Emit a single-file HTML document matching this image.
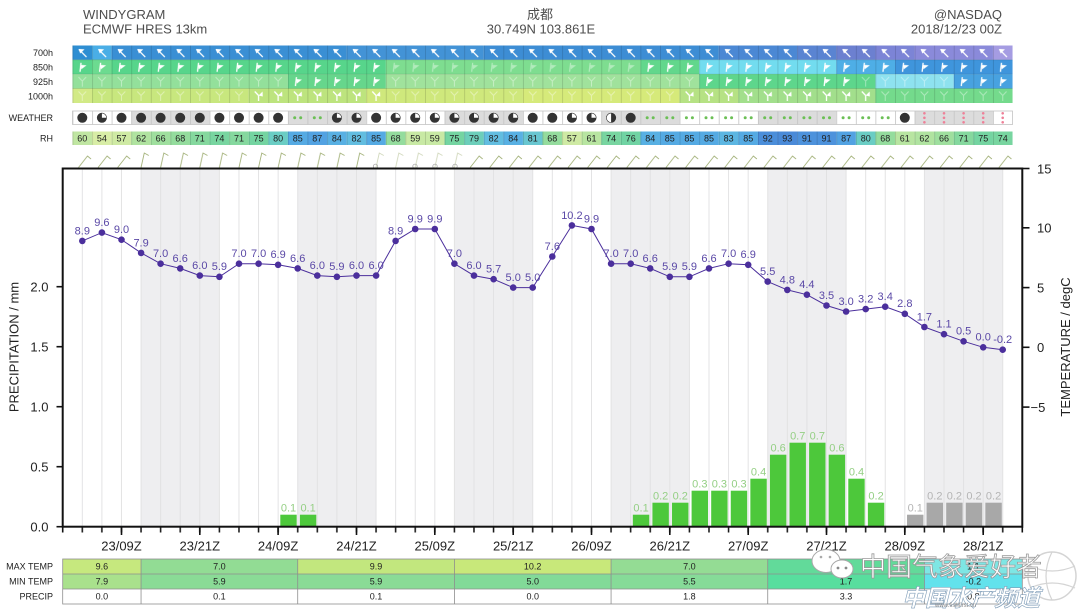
<!DOCTYPE html>
<html><head><meta charset="utf-8"><style>html,body{margin:0;padding:0;background:#fff;}svg{display:block;}</style></head>
<body>
<svg width="1080" height="611" viewBox="0 0 1080 611" xmlns="http://www.w3.org/2000/svg" font-family="'Liberation Sans', Arial, sans-serif">
<defs>
<pattern id="pvl" x="72.51" y="0" width="19.584" height="10" patternUnits="userSpaceOnUse"><rect x="0" y="0" width="0.8" height="10" fill="rgba(0,0,0,0.16)"/></pattern>
<pattern id="pvw" x="72.51" y="0" width="19.584" height="10" patternUnits="userSpaceOnUse"><rect x="0" y="0" width="0.8" height="10" fill="#c4c4c4"/></pattern>
<pattern id="pgl" x="72.51" y="0" width="19.584" height="10" patternUnits="userSpaceOnUse"><rect x="9.35" y="0" width="0.9" height="10" fill="#e0e0e2"/></pattern>
<pattern id="ptk" x="72.51" y="527" width="19.584" height="6" patternUnits="userSpaceOnUse"><rect x="9.04" y="0" width="1.5" height="6" fill="#111"/></pattern>
<pattern id="pA" x="72.51" y="45.5" width="19.584" height="14.3" patternUnits="userSpaceOnUse"><path d="M14,11.5 L6.5,4" stroke="#fff" stroke-width="1.3"/><path d="M6,3.5 L12,3.8 L7.7,8 Z" fill="#fff"/></pattern>
<pattern id="pB" x="72.51" y="59.8" width="19.584" height="14.3" patternUnits="userSpaceOnUse"><path d="M7.5,12 L8.5,3" stroke="#fff" stroke-width="1.3"/><path d="M8.3,5 L14,5.5 L8.8,9.5 Z" fill="#fff"/></pattern>
<pattern id="pBf" x="72.51" y="59.8" width="19.584" height="14.3" patternUnits="userSpaceOnUse"><g opacity="0.4"><path d="M7.5,12 L8.5,3" stroke="#fff" stroke-width="1.2"/><path d="M8.3,5 L14,5.5 L8.8,9.5 Z" fill="#fff"/></g></pattern>
<pattern id="pC" x="72.51" y="74.1" width="19.584" height="14.4" patternUnits="userSpaceOnUse"><path d="M7.5,12 L8.5,3" stroke="#fff" stroke-width="1.3"/><path d="M8.3,5 L14,5.5 L8.8,9.5 Z" fill="#fff"/></pattern>
<pattern id="pCf" x="72.51" y="74.1" width="19.584" height="14.4" patternUnits="userSpaceOnUse"><path d="M9.8,12.5 L9.8,7 M9.8,7 L6,3 M9.8,7 L13.6,3" stroke="#fff" stroke-width="1" fill="none" opacity="0.4"/></pattern>
<pattern id="pD" x="72.51" y="88.5" width="19.584" height="14.5" patternUnits="userSpaceOnUse"><path d="M9.8,12.5 L9.8,7 M9.8,7 L6,3" stroke="#fff" stroke-width="1.3" fill="none"/><path d="M9.8,7 L13.8,3 L14,8 Z" fill="#fff"/></pattern>
<pattern id="pDf" x="72.51" y="88.5" width="19.584" height="14.5" patternUnits="userSpaceOnUse"><path d="M9.8,12.5 L9.8,7 M9.8,7 L6,3 M9.8,7 L13.6,3" stroke="#fff" stroke-width="1" fill="none" opacity="0.4"/></pattern>
<pattern id="pW" x="72.51" y="147" width="19.584" height="21" patternUnits="userSpaceOnUse"><path d="M9.8,20.5 L13,6 L17.5,8.5" stroke="#a4b27a" stroke-width="0.9" fill="none"/></pattern>
<pattern id="pW2" x="72.51" y="147" width="19.584" height="21" patternUnits="userSpaceOnUse"><path d="M6,20.5 L15,9 L18.5,12" stroke="#a4b27a" stroke-width="0.9" fill="none"/></pattern>
<g id="wd"><circle r="5" fill="#333"/></g>
<g id="wq"><circle r="5" fill="#333"/><path d="M0,0 L0,-4.4 A4.4,4.4 0 0 1 4.4,0 Z" fill="#fff"/></g>
<g id="wh"><circle r="5" fill="#333"/><path d="M0,-4.4 A4.4,4.4 0 0 0 0,4.4 Z" fill="#fff"/></g>
<g id="wr"><circle cx="-3" r="1.5" fill="#6bbf55"/><circle cx="3" r="1.5" fill="#6bbf55"/></g>
<g id="ws"><circle cy="-4.5" r="1.3" fill="#ee8098"/><circle r="1.3" fill="#ee8098"/><circle cy="4.5" r="1.3" fill="#ee8098"/></g>
<marker id="dot" markerWidth="8" markerHeight="8" refX="4" refY="4" markerUnits="userSpaceOnUse"><circle cx="4" cy="4" r="3.3" fill="#4b2f9c"/></marker>
</defs>

<rect width="1080" height="611" fill="#fff"/>

<g font-size="13" fill="#4d4d4d">
<text x="83" y="19">WINDYGRAM</text>
<text x="83" y="33.5">ECMWF HRES 13km</text>
<text x="540" y="19" text-anchor="middle" font-family="'Liberation Sans','Noto Sans CJK SC',sans-serif">成都</text>
<text x="541" y="33.5" text-anchor="middle">30.749N 103.861E</text>
<text x="1002" y="19" text-anchor="end">@NASDAQ</text>
<text x="1002" y="33.5" text-anchor="end">2018/12/23 00Z</text>
</g>

<g font-size="9" fill="#222" text-anchor="end">
<text x="53" y="56">700h</text>
<text x="53" y="70.5">850h</text>
<text x="53" y="85">925h</text>
<text x="53" y="99.5">1000h</text>
<text x="53" y="121">WEATHER</text>
<text x="53" y="141.5">RH</text>
<text x="53" y="569.7">MAX TEMP</text>
<text x="53" y="584.7">MIN TEMP</text>
<text x="53" y="599.7">PRECIP</text>
</g>

<g transform="translate(72.51 0) scale(19.584 1)">
<rect x="0" y="45.5" width="1" height="14.3" fill="#2e8ed2"/>
<rect x="1" y="45.5" width="1" height="14.3" fill="#4aaee6"/>
<rect x="2" y="45.5" width="12" height="14.3" fill="#3a8fd4"/>
<rect x="14" y="45.5" width="7" height="14.3" fill="#4393d6"/>
<rect x="21" y="45.5" width="12" height="14.3" fill="#3d8dd4"/>
<rect x="33" y="45.5" width="4" height="14.3" fill="#4b88d4"/>
<rect x="37" y="45.5" width="2" height="14.3" fill="#5a84d2"/>
<rect x="39" y="45.5" width="2" height="14.3" fill="#6c80d0"/>
<rect x="41" y="45.5" width="2" height="14.3" fill="#7c84d6"/>
<rect x="43" y="45.5" width="4" height="14.3" fill="#8a8ada"/>
<rect x="47" y="45.5" width="1" height="14.3" fill="#a59ce2"/>

<rect x="0" y="59.8" width="16" height="14.3" fill="#57d58b"/>
<rect x="1" y="59.8" width="1" height="14.3" fill="#6cdb90"/>
<rect x="16" y="59.8" width="13" height="14.3" fill="#7edd90"/>
<rect x="29" y="59.8" width="3" height="14.3" fill="#62d78c"/>
<rect x="32" y="59.8" width="7" height="14.3" fill="#72dcef"/>
<rect x="39" y="59.8" width="3" height="14.3" fill="#4eaee6"/>
<rect x="42" y="59.8" width="6" height="14.3" fill="#3f95dc"/>

<rect x="0" y="74.1" width="11" height="14.4" fill="#93e09b"/>
<rect x="11" y="74.1" width="5" height="14.4" fill="#66d68c"/>
<rect x="16" y="74.1" width="16" height="14.4" fill="#a0e29c"/>
<rect x="32" y="74.1" width="9" height="14.4" fill="#5ed68c"/>
<rect x="41" y="74.1" width="4" height="14.4" fill="#8ee2ef"/>
<rect x="45" y="74.1" width="3" height="14.4" fill="#48a2e0"/>

<rect x="0" y="88.5" width="9" height="14.5" fill="#c8e77e"/>
<rect x="0" y="88.5" width="1" height="14.5" fill="#d2ea86"/>
<rect x="9" y="88.5" width="6" height="14.5" fill="#bde47e"/>
<rect x="15" y="88.5" width="8" height="14.5" fill="#cfe87c"/>
<rect x="23" y="88.5" width="8" height="14.5" fill="#d6ea7a"/>
<rect x="31" y="88.5" width="3" height="14.5" fill="#b6e284"/>
<rect x="34" y="88.5" width="7" height="14.5" fill="#a2df8c"/>
<rect x="41" y="88.5" width="7" height="14.5" fill="#74da8c"/>

<rect x="0" y="111" width="48" height="13.5" fill="#fff"/>
<rect x="3" y="111" width="4" height="13.5" fill="#dcdcdc"/>
<rect x="11" y="111" width="4" height="13.5" fill="#dcdcdc"/>
<rect x="19" y="111" width="4" height="13.5" fill="#dcdcdc"/>
<rect x="27" y="111" width="4" height="13.5" fill="#dcdcdc"/>
<rect x="35" y="111" width="4" height="13.5" fill="#dcdcdc"/>
<rect x="43" y="111" width="4" height="13.5" fill="#dcdcdc"/>

<rect x="0" y="131.5" width="1" height="13.5" fill="#c0e6a2"/>
<rect x="1" y="131.5" width="1" height="13.5" fill="#d8eda6"/>
<rect x="2" y="131.5" width="1" height="13.5" fill="#cfeaa4"/>
<rect x="3" y="131.5" width="1" height="13.5" fill="#b0e3a0"/>
<rect x="4" y="131.5" width="1" height="13.5" fill="#9fdf9e"/>
<rect x="5" y="131.5" width="1" height="13.5" fill="#94dc9d"/>
<rect x="6" y="131.5" width="1" height="13.5" fill="#85d89e"/>
<rect x="7" y="131.5" width="1" height="13.5" fill="#78d5a0"/>
<rect x="8" y="131.5" width="1" height="13.5" fill="#85d89e"/>
<rect x="9" y="131.5" width="1" height="13.5" fill="#74d4a1"/>
<rect x="10" y="131.5" width="1" height="13.5" fill="#6acdc4"/>
<rect x="11" y="131.5" width="1" height="13.5" fill="#55aae3"/>
<rect x="12" y="131.5" width="1" height="13.5" fill="#52a2e2"/>
<rect x="13" y="131.5" width="1" height="13.5" fill="#58b0e3"/>
<rect x="14" y="131.5" width="1" height="13.5" fill="#62bde0"/>
<rect x="15" y="131.5" width="1" height="13.5" fill="#55aae3"/>
<rect x="16" y="131.5" width="1" height="13.5" fill="#94dc9d"/>
<rect x="17" y="131.5" width="2" height="13.5" fill="#c8e9a4"/>
<rect x="19" y="131.5" width="1" height="13.5" fill="#74d4a1"/>
<rect x="20" y="131.5" width="1" height="13.5" fill="#6cceba"/>
<rect x="21" y="131.5" width="1" height="13.5" fill="#62bde0"/>
<rect x="22" y="131.5" width="1" height="13.5" fill="#58b0e3"/>
<rect x="23" y="131.5" width="1" height="13.5" fill="#68c6d0"/>
<rect x="24" y="131.5" width="1" height="13.5" fill="#94dc9d"/>
<rect x="25" y="131.5" width="1" height="13.5" fill="#cfeaa4"/>
<rect x="26" y="131.5" width="1" height="13.5" fill="#b8e5a1"/>
<rect x="27" y="131.5" width="1" height="13.5" fill="#78d5a0"/>
<rect x="28" y="131.5" width="1" height="13.5" fill="#70d3a3"/>
<rect x="29" y="131.5" width="1" height="13.5" fill="#58b0e3"/>
<rect x="30" y="131.5" width="3" height="13.5" fill="#55aae3"/>
<rect x="33" y="131.5" width="1" height="13.5" fill="#5cb6e2"/>
<rect x="34" y="131.5" width="1" height="13.5" fill="#55aae3"/>
<rect x="35" y="131.5" width="1" height="13.5" fill="#4b8eda"/>
<rect x="36" y="131.5" width="1" height="13.5" fill="#4a8ad8"/>
<rect x="37" y="131.5" width="2" height="13.5" fill="#4d92dc"/>
<rect x="39" y="131.5" width="1" height="13.5" fill="#52a2e2"/>
<rect x="40" y="131.5" width="1" height="13.5" fill="#6acdc4"/>
<rect x="41" y="131.5" width="1" height="13.5" fill="#94dc9d"/>
<rect x="42" y="131.5" width="1" height="13.5" fill="#b8e5a1"/>
<rect x="43" y="131.5" width="1" height="13.5" fill="#b0e3a0"/>
<rect x="44" y="131.5" width="1" height="13.5" fill="#9fdf9e"/>
<rect x="45" y="131.5" width="1" height="13.5" fill="#85d89e"/>
<rect x="46" y="131.5" width="1" height="13.5" fill="#74d4a1"/>
<rect x="47" y="131.5" width="1" height="13.5" fill="#78d5a0"/>
</g>

<rect x="72.51" y="45.5" width="940" height="14.3" fill="url(#pA)"/>
<rect x="72.51" y="59.8" width="313.34" height="14.3" fill="url(#pB)"/>
<rect x="385.85" y="59.8" width="254.6" height="14.3" fill="url(#pBf)"/>
<rect x="640.45" y="59.8" width="372.1" height="14.3" fill="url(#pB)"/>
<rect x="72.51" y="74.1" width="215.42" height="14.4" fill="url(#pCf)"/>
<rect x="287.93" y="74.1" width="97.92" height="14.4" fill="url(#pC)"/>
<rect x="385.85" y="74.1" width="313.35" height="14.4" fill="url(#pCf)"/>
<rect x="699.2" y="74.1" width="156.67" height="14.4" fill="url(#pC)"/>
<rect x="855.87" y="74.1" width="97.92" height="14.4" fill="url(#pCf)"/>
<rect x="953.79" y="74.1" width="58.75" height="14.4" fill="url(#pC)"/>
<rect x="72.51" y="88.5" width="176.26" height="14.5" fill="url(#pDf)"/>
<rect x="248.77" y="88.5" width="137.08" height="14.5" fill="url(#pD)"/>
<rect x="385.85" y="88.5" width="293.76" height="14.5" fill="url(#pDf)"/>
<rect x="679.61" y="88.5" width="195.84" height="14.5" fill="url(#pD)"/>
<rect x="875.45" y="88.5" width="137.09" height="14.5" fill="url(#pDf)"/>
<rect x="72.51" y="45.5" width="940" height="57.5" fill="url(#pvl)"/>
<g stroke="rgba(0,0,0,0.13)" stroke-width="0.8"><line x1="72.5" y1="59.8" x2="1012.5" y2="59.8"/><line x1="72.5" y1="74.1" x2="1012.5" y2="74.1"/><line x1="72.5" y1="88.5" x2="1012.5" y2="88.5"/></g>

<rect x="72.51" y="111" width="940" height="13.5" fill="url(#pvw)"/>
<rect x="72.5" y="111" width="940" height="13.5" fill="none" stroke="#c4c4c4" stroke-width="0.8"/>
<g transform="translate(0 117.8)">
<use href="#wd" x="82.3"/><use href="#wq" x="101.9"/><use href="#wd" x="121.5"/><use href="#wd" x="141.1"/><use href="#wd" x="160.6"/><use href="#wd" x="180.2"/><use href="#wd" x="199.8"/><use href="#wd" x="219.4"/><use href="#wd" x="239.0"/><use href="#wd" x="258.6"/><use href="#wd" x="278.1"/>
<use href="#wr" x="297.7"/><use href="#wr" x="317.3"/><use href="#wq" x="336.9"/><use href="#wq" x="356.5"/><use href="#wd" x="376.1"/>
<use href="#wq" x="395.6"/><use href="#wq" x="415.2"/><use href="#wq" x="434.8"/><use href="#wq" x="454.4"/><use href="#wq" x="474.0"/><use href="#wq" x="493.6"/><use href="#wq" x="513.2"/>
<use href="#wd" x="532.7"/><use href="#wd" x="552.3"/><use href="#wq" x="571.9"/><use href="#wq" x="591.5"/><use href="#wh" x="611.1"/><use href="#wd" x="630.7"/>
<use href="#wr" x="650.2"/><use href="#wr" x="669.8"/><use href="#wr" x="689.4"/><use href="#wr" x="709.0"/><use href="#wr" x="728.6"/><use href="#wr" x="748.2"/><use href="#wr" x="767.7"/><use href="#wr" x="787.3"/><use href="#wr" x="806.9"/><use href="#wr" x="826.5"/><use href="#wr" x="846.1"/><use href="#wr" x="865.7"/><use href="#wr" x="885.2"/>
<use href="#wd" x="904.8"/><use href="#ws" x="924.4"/><use href="#ws" x="944.0"/><use href="#ws" x="963.6"/><use href="#ws" x="983.2"/><use href="#ws" x="1002.7"/>
</g>

<rect x="72.51" y="131.5" width="940" height="13.5" fill="url(#pvl)"/>
<g font-size="9" fill="#222" text-anchor="middle">
<text x="82.3" y="141.5">60</text><text x="101.9" y="141.5">54</text><text x="121.5" y="141.5">57</text><text x="141.1" y="141.5">62</text><text x="160.6" y="141.5">66</text><text x="180.2" y="141.5">68</text><text x="199.8" y="141.5">71</text><text x="219.4" y="141.5">74</text><text x="239.0" y="141.5">71</text><text x="258.6" y="141.5">75</text><text x="278.1" y="141.5">80</text><text x="297.7" y="141.5">85</text><text x="317.3" y="141.5">87</text><text x="336.9" y="141.5">84</text><text x="356.5" y="141.5">82</text><text x="376.1" y="141.5">85</text><text x="395.6" y="141.5">68</text><text x="415.2" y="141.5">59</text><text x="434.8" y="141.5">59</text><text x="454.4" y="141.5">75</text><text x="474.0" y="141.5">79</text><text x="493.6" y="141.5">82</text><text x="513.2" y="141.5">84</text><text x="532.7" y="141.5">81</text><text x="552.3" y="141.5">68</text><text x="571.9" y="141.5">57</text><text x="591.5" y="141.5">61</text><text x="611.1" y="141.5">74</text><text x="630.7" y="141.5">76</text><text x="650.2" y="141.5">84</text><text x="669.8" y="141.5">85</text><text x="689.4" y="141.5">85</text><text x="709.0" y="141.5">85</text><text x="728.6" y="141.5">83</text><text x="748.2" y="141.5">85</text><text x="767.7" y="141.5">92</text><text x="787.3" y="141.5">93</text><text x="806.9" y="141.5">91</text><text x="826.5" y="141.5">91</text><text x="846.1" y="141.5">87</text><text x="865.7" y="141.5">80</text><text x="885.2" y="141.5">68</text><text x="904.8" y="141.5">61</text><text x="924.4" y="141.5">62</text><text x="944.0" y="141.5">66</text><text x="963.6" y="141.5">71</text><text x="983.2" y="141.5">75</text><text x="1002.7" y="141.5">74</text>
</g>

<rect x="72.51" y="147" width="58.75" height="21" fill="url(#pW2)"/>
<rect x="131.26" y="147" width="235.01" height="21" fill="url(#pW)"/>
<rect x="464.19" y="147" width="548.35" height="21" fill="url(#pW2)"/>
<rect x="366.27" y="147" width="97.92" height="21" fill="url(#pW)" opacity="0.5"/>
<g fill="none" stroke="#aaa" stroke-width="0.8"><circle cx="375.5" cy="166.3" r="2.2"/><circle cx="415" cy="166.3" r="2.2"/><circle cx="435" cy="166.3" r="2.2"/><circle cx="455" cy="166.3" r="2.2"/></g>

<rect x="62.7" y="168.5" width="959.6" height="358.2" fill="#fff"/>
<g fill="#eeeef0">
<rect x="141.05" y="168.5" width="78.34" height="358.2"/>
<rect x="297.72" y="168.5" width="78.34" height="358.2"/>
<rect x="454.40" y="168.5" width="78.34" height="358.2"/>
<rect x="611.07" y="168.5" width="78.34" height="358.2"/>
<rect x="767.74" y="168.5" width="78.34" height="358.2"/>
<rect x="924.41" y="168.5" width="78.34" height="358.2"/>
</g>
<rect x="72.51" y="168.5" width="940" height="358.2" fill="url(#pgl)"/>

<g fill="#4dc83b">
<rect x="280.3" y="514.7" width="16.4" height="12"/>
<rect x="299.9" y="514.7" width="16.4" height="12"/>
<rect x="632.85" y="514.7" width="16.4" height="12"/>
<rect x="652.44" y="502.7" width="16.4" height="24"/>
<rect x="672.02" y="502.7" width="16.4" height="24"/>
<rect x="691.6" y="490.7" width="16.4" height="36"/>
<rect x="711.19" y="490.7" width="16.4" height="36"/>
<rect x="730.77" y="490.7" width="16.4" height="36"/>
<rect x="750.36" y="478.7" width="16.4" height="48"/>
<rect x="769.94" y="454.7" width="16.4" height="72"/>
<rect x="789.52" y="442.7" width="16.4" height="84"/>
<rect x="809.11" y="442.7" width="16.4" height="84"/>
<rect x="828.69" y="454.7" width="16.4" height="72"/>
<rect x="848.28" y="478.7" width="16.4" height="48"/>
<rect x="867.86" y="502.7" width="16.4" height="24"/>
</g>
<g fill="#a8a8a8">
<rect x="907.03" y="514.7" width="16.4" height="12"/>
<rect x="926.61" y="502.7" width="16.4" height="24"/>
<rect x="946.2" y="502.7" width="16.4" height="24"/>
<rect x="965.78" y="502.7" width="16.4" height="24"/>
<rect x="985.36" y="502.7" width="16.4" height="24"/>
</g>
<g font-size="11" fill="#94cf84" text-anchor="middle">
<text x="288.5" y="511.7">0.1</text><text x="308.1" y="511.7">0.1</text>
<text x="641.05" y="511.7">0.1</text><text x="660.64" y="499.7">0.2</text><text x="680.22" y="499.7">0.2</text><text x="699.8" y="487.7">0.3</text><text x="719.39" y="487.7">0.3</text><text x="738.97" y="487.7">0.3</text><text x="758.56" y="475.7">0.4</text><text x="778.14" y="451.7">0.6</text><text x="797.72" y="439.7">0.7</text><text x="817.31" y="439.7">0.7</text><text x="836.89" y="451.7">0.6</text><text x="856.48" y="475.7">0.4</text><text x="876.06" y="499.7">0.2</text>
</g>
<g font-size="11" fill="#b4b4b4" text-anchor="middle">
<text x="915.23" y="511.7">0.1</text><text x="934.81" y="499.7">0.2</text><text x="954.4" y="499.7">0.2</text><text x="973.98" y="499.7">0.2</text><text x="993.56" y="499.7">0.2</text>
</g>

<polyline fill="none" stroke="#4b2f9c" stroke-width="1" marker-start="url(#dot)" marker-mid="url(#dot)" marker-end="url(#dot)" points="82.3,240.9 101.9,232.6 121.5,239.7 141.1,252.9 160.6,263.7 180.2,268.4 199.8,275.6 219.4,276.8 239.0,263.7 258.6,263.7 278.1,264.8 297.7,268.4 317.3,275.6 336.9,276.8 356.5,275.6 376.1,275.6 395.6,240.9 415.2,229.0 434.8,229.0 454.4,263.7 474.0,275.6 493.6,279.2 513.2,287.6 532.7,287.6 552.3,256.5 571.9,225.4 591.5,229.0 611.1,263.7 630.7,263.7 650.2,268.4 669.8,276.8 689.4,276.8 709.0,268.4 728.6,263.7 748.2,264.8 767.7,281.6 787.3,289.9 806.9,294.7 826.5,305.5 846.1,311.5 865.7,309.1 885.2,306.7 904.8,313.8 924.4,327.0 944.0,334.2 963.6,341.3 983.2,347.3 1002.7,349.7"/>
<g font-size="11" fill="#5a48a6" text-anchor="middle">
<text x="82.3" y="234.3">8.9</text><text x="101.9" y="226.0">9.6</text><text x="121.5" y="233.1">9.0</text><text x="141.1" y="246.3">7.9</text><text x="160.6" y="257.1">7.0</text><text x="180.2" y="261.8">6.6</text><text x="199.8" y="269.0">6.0</text><text x="219.4" y="270.2">5.9</text><text x="239.0" y="257.1">7.0</text><text x="258.6" y="257.1">7.0</text><text x="278.1" y="258.2">6.9</text><text x="297.7" y="261.8">6.6</text><text x="317.3" y="269.0">6.0</text><text x="336.9" y="270.2">5.9</text><text x="356.5" y="269.0">6.0</text><text x="376.1" y="269.0">6.0</text><text x="395.6" y="234.3">8.9</text><text x="415.2" y="222.4">9.9</text><text x="434.8" y="222.4">9.9</text><text x="454.4" y="257.1">7.0</text><text x="474.0" y="269.0">6.0</text><text x="493.6" y="272.6">5.7</text><text x="513.2" y="281.0">5.0</text><text x="532.7" y="281.0">5.0</text><text x="552.3" y="249.9">7.6</text><text x="571.9" y="218.8">10.2</text><text x="591.5" y="222.4">9.9</text><text x="611.1" y="257.1">7.0</text><text x="630.7" y="257.1">7.0</text><text x="650.2" y="261.8">6.6</text><text x="669.8" y="270.2">5.9</text><text x="689.4" y="270.2">5.9</text><text x="709.0" y="261.8">6.6</text><text x="728.6" y="257.1">7.0</text><text x="748.2" y="258.2">6.9</text><text x="767.7" y="275.0">5.5</text><text x="787.3" y="283.3">4.8</text><text x="806.9" y="288.1">4.4</text><text x="826.5" y="298.9">3.5</text><text x="846.1" y="304.9">3.0</text><text x="865.7" y="302.5">3.2</text><text x="885.2" y="300.1">3.4</text><text x="904.8" y="307.2">2.8</text><text x="924.4" y="320.4">1.7</text><text x="944.0" y="327.6">1.1</text><text x="963.6" y="334.7">0.5</text><text x="983.2" y="340.7">0.0</text><text x="1002.7" y="343.1">-0.2</text>
</g>

<rect x="62.7" y="168.5" width="959.6" height="358.2" fill="none" stroke="#111" stroke-width="2"/>
<rect x="72.51" y="527.5" width="940" height="5" fill="url(#ptk)"/>
<g stroke="#111" stroke-width="1.6">
<line x1="62.7" y1="527" x2="62.7" y2="532.5"/><line x1="1022.3" y1="527" x2="1022.3" y2="532.5"/>
<line x1="121.5" y1="527" x2="121.5" y2="535"/><line x1="199.8" y1="527" x2="199.8" y2="535"/><line x1="278.1" y1="527" x2="278.1" y2="535"/><line x1="356.5" y1="527" x2="356.5" y2="535"/><line x1="434.8" y1="527" x2="434.8" y2="535"/><line x1="513.2" y1="527" x2="513.2" y2="535"/><line x1="591.5" y1="527" x2="591.5" y2="535"/><line x1="669.8" y1="527" x2="669.8" y2="535"/><line x1="748.2" y1="527" x2="748.2" y2="535"/><line x1="826.5" y1="527" x2="826.5" y2="535"/><line x1="904.8" y1="527" x2="904.8" y2="535"/><line x1="983.2" y1="527" x2="983.2" y2="535"/>
<line x1="56.5" y1="286.7" x2="62.7" y2="286.7"/><line x1="56.5" y1="346.7" x2="62.7" y2="346.7"/><line x1="56.5" y1="406.7" x2="62.7" y2="406.7"/><line x1="56.5" y1="466.7" x2="62.7" y2="466.7"/><line x1="56.5" y1="526.7" x2="62.7" y2="526.7"/>
<line x1="1022.3" y1="168.5" x2="1029.5" y2="168.5"/><line x1="1022.3" y1="227.8" x2="1029.5" y2="227.8"/><line x1="1022.3" y1="287.6" x2="1029.5" y2="287.6"/><line x1="1022.3" y1="347.3" x2="1029.5" y2="347.3"/><line x1="1022.3" y1="407.1" x2="1029.5" y2="407.1"/>
</g>
<g font-size="13" fill="#222">
<g text-anchor="end">
<text x="48.5" y="291.7">2.0</text><text x="48.5" y="351.7">1.5</text><text x="48.5" y="411.7">1.0</text><text x="48.5" y="471.7">0.5</text><text x="48.5" y="531.7">0.0</text>
</g>
<text x="1037" y="173.3">15</text><text x="1037" y="232.6">10</text><text x="1037" y="292.4">5</text><text x="1037" y="352.1">0</text><text x="1030.5" y="411.9">−5</text>
<g text-anchor="middle">
<text x="121.5" y="550.7">23/09Z</text><text x="199.8" y="550.7">23/21Z</text><text x="278.1" y="550.7">24/09Z</text><text x="356.5" y="550.7">24/21Z</text><text x="434.8" y="550.7">25/09Z</text><text x="513.2" y="550.7">25/21Z</text><text x="591.5" y="550.7">26/09Z</text><text x="669.8" y="550.7">26/21Z</text><text x="748.2" y="550.7">27/09Z</text><text x="826.5" y="550.7">27/21Z</text><text x="904.8" y="550.7">28/09Z</text><text x="983.2" y="550.7">28/21Z</text>
</g>
<text transform="translate(18.5 347) rotate(-90)" text-anchor="middle">PRECIPITATION / mm</text>
<text transform="translate(1070 347) rotate(-90)" text-anchor="middle">TEMPERATURE / degC</text>
</g>

<g>
<rect x="62.7" y="559" width="78.35" height="15" fill="#c6e87e"/>
<rect x="141.05" y="559" width="156.67" height="15" fill="#92dc94"/>
<rect x="297.72" y="559" width="156.68" height="15" fill="#c2e77e"/>
<rect x="454.4" y="559" width="156.67" height="15" fill="#c8e87a"/>
<rect x="611.07" y="559" width="156.67" height="15" fill="#94dc94"/>
<rect x="767.74" y="559" width="156.67" height="15" fill="#62da9a"/>
<rect x="924.41" y="559" width="97.89" height="15" fill="#7ee6e4"/>
<rect x="62.7" y="574" width="78.35" height="15" fill="#a9e18c"/>
<rect x="141.05" y="574" width="156.67" height="15" fill="#8adb96"/>
<rect x="297.72" y="574" width="156.68" height="15" fill="#8adb96"/>
<rect x="454.4" y="574" width="156.67" height="15" fill="#82da98"/>
<rect x="611.07" y="574" width="156.67" height="15" fill="#86db98"/>
<rect x="767.74" y="574" width="156.67" height="15" fill="#58de9e"/>
<rect x="924.41" y="574" width="97.89" height="15" fill="#62e2ec"/>
<rect x="62.7" y="589" width="959.6" height="15" fill="#fff"/>
<g stroke="#8e8e8e" stroke-width="0.8" fill="none">
<rect x="62.7" y="559" width="959.6" height="45"/>
<line x1="62.7" y1="574" x2="1022.3" y2="574"/><line x1="62.7" y1="589" x2="1022.3" y2="589"/>
<line x1="141.05" y1="559" x2="141.05" y2="604"/><line x1="297.72" y1="559" x2="297.72" y2="604"/><line x1="454.4" y1="559" x2="454.4" y2="604"/><line x1="611.07" y1="559" x2="611.07" y2="604"/><line x1="767.74" y1="559" x2="767.74" y2="604"/><line x1="924.41" y1="559" x2="924.41" y2="604"/>
</g>
<g font-size="9" fill="#222" text-anchor="middle">
<text x="101.9" y="569.7">9.6</text><text x="219.4" y="569.7">7.0</text><text x="376" y="569.7">9.9</text><text x="532.7" y="569.7">10.2</text><text x="689.4" y="569.7">7.0</text><text x="846" y="569.7">4.8</text><text x="973.4" y="569.7">1.1</text>
<text x="101.9" y="584.7">7.9</text><text x="219.4" y="584.7">5.9</text><text x="376" y="584.7">5.9</text><text x="532.7" y="584.7">5.0</text><text x="689.4" y="584.7">5.5</text><text x="846" y="584.7">1.7</text><text x="973.4" y="584.7">-0.2</text>
<text x="101.9" y="599.7">0.0</text><text x="219.4" y="599.7">0.1</text><text x="376" y="599.7">0.1</text><text x="532.7" y="599.7">0.0</text><text x="689.4" y="599.7">1.8</text><text x="846" y="599.7">3.3</text><text x="973.4" y="599.7">0.8</text>
</g>
</g>

<g>
<circle cx="1052" cy="576" r="24" fill="none" stroke="#d4d4d4" stroke-width="1.5"/>
<path d="M1030,566 Q1052,576 1075,566 M1030,588 Q1052,578 1075,588 M1052,552 Q1040,576 1052,600" fill="none" stroke="#d4d4d4" stroke-width="1.2"/>
<ellipse cx="826" cy="561" rx="14" ry="11.5" fill="#fff" stroke="#a8a8a8" stroke-width="1"/>
<ellipse cx="842" cy="569" rx="11" ry="9" fill="#fff" stroke="#a8a8a8" stroke-width="1"/>
<circle cx="838" cy="568" r="1.4" fill="#888"/><circle cx="846" cy="568" r="1.4" fill="#888"/>
<circle cx="821" cy="557" r="1.3" fill="#aaa"/><circle cx="830" cy="557" r="1.3" fill="#aaa"/>
<text x="860" y="576" font-size="26" fill="#fff" stroke="#9a9a9a" stroke-width="0.8" font-family="'Liberation Sans','Noto Sans CJK SC',sans-serif">中国气象爱好者</text>
<text x="902" y="606" font-size="23" font-style="italic" font-weight="bold" fill="#fff" stroke="#7f9db8" stroke-width="0.6" font-family="'Liberation Sans','Noto Sans CJK SC',sans-serif">中国水产频道</text>
<text x="935" y="607" font-size="6" fill="#888">www.fishfirst.cn</text>
</g>
</svg>
</body></html>
